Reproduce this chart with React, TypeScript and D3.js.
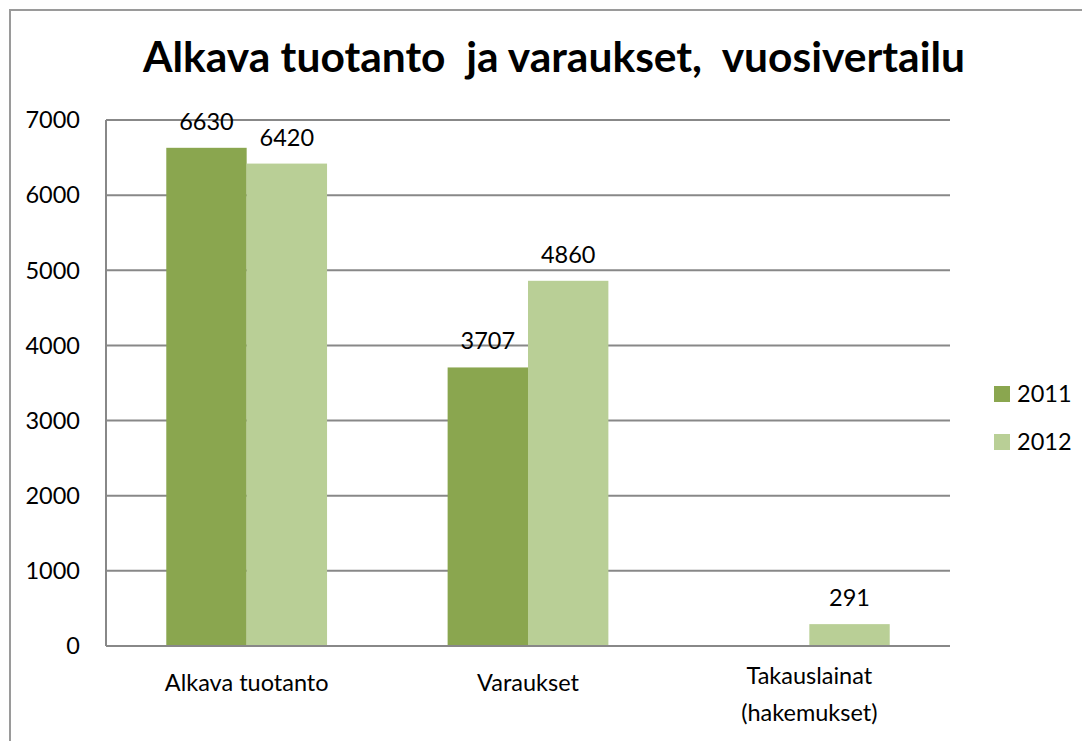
import React from "react";
import * as d3 from "d3";

// kategoriat ja sarjat
const categories = ["Alkava tuotanto", "Varaukset", "Takauslainat\n(hakemukset)"];
const years = ["2011", "2012"];
const values2011 = [6630, 3707, null];
const values2012 = [6420, 4860, 291];
const yTicks = [0, 1000, 2000, 3000, 4000, 5000, 6000, 7000];

const W = 1082;
const H = 741;
const plot = { left: 106, right: 950, top: 120, bottom: 646 };
const colors = ["#8aa64f", "#b9cf96"];
const font = "Lato, 'Open Sans', sans-serif";
const fs = 23.5;

const App = () => {
  const x = d3
    .scaleBand()
    .domain(categories)
    .range([plot.left, plot.right]);

  // Excel tyylinen 150% väli
  const bw = x.bandwidth() / 3.5;
  const xs = d3.scaleBand().domain(years).range([0, bw * 2]);

  const y = d3.scaleLinear().domain([0, 7000]).range([plot.bottom, plot.top]);

  const series = [values2011, values2012];

  return (
    <svg
      width={W}
      height={H}
      style={{ position: "absolute", left: 0, top: 0, background: "#fff" }}
      fontFamily={font}
    >
      <rect x={10} y={10} width={1200} height={900} fill="#fff" stroke="#9a9a9a" strokeWidth={2} />

      <text
        x={554}
        y={72}
        textAnchor="middle"
        fontSize={42.5}
        fontWeight="bold"
        fill="#000"
        style={{ whiteSpace: "pre" }}
      >
        {"Alkava tuotanto  ja varaukset,  vuosivertailu"}
      </text>

      {/* ruudukko */}
      {yTicks.map((t) => (
        <g key={t}>
          {t > 0 && (
            <line x1={plot.left} x2={plot.right} y1={y(t)} y2={y(t)} stroke="#888" strokeWidth={2} />
          )}
          <text x={80} y={y(t)} dy="0.35em" textAnchor="end" fontSize={fs} fill="#000">
            {t}
          </text>
        </g>
      ))}

      {/* pylväät */}
      {series.map((vals, si) =>
        vals.map((v, ci) => {
          if (v == null) return null;
          const bx = (x(categories[ci]) as number) + (x.bandwidth() - bw * 2) / 2 + (xs(years[si]) as number);
          return (
            <g key={si + "-" + ci}>
              <rect x={bx} y={y(v)} width={bw} height={y(0) - y(v)} fill={colors[si]} />
              <text x={bx + bw / 2} y={y(v) - 18} textAnchor="middle" fontSize={fs} fill="#000">
                {v}
              </text>
            </g>
          );
        })
      )}

      {/* akselit */}
      <line x1={plot.left} x2={plot.left} y1={plot.top} y2={plot.bottom} stroke="#888" strokeWidth={2} />
      <line x1={plot.left} x2={plot.right} y1={plot.bottom} y2={plot.bottom} stroke="#888" strokeWidth={2} />

      {/* kategoriat */}
      {categories.map((c) => {
        const lines = c.split("\n");
        const cx = (x(c) as number) + x.bandwidth() / 2;
        const y0 = lines.length > 1 ? 684 : 691;
        return (
          <text key={c} x={cx} textAnchor="middle" fontSize={fs} fill="#000">
            {lines.map((l, i) => (
              <tspan key={i} x={cx} y={y0 + i * 37}>
                {l}
              </tspan>
            ))}
          </text>
        );
      })}

      {/* selite */}
      {years.map((yr, i) => (
        <g key={yr} transform={`translate(994, ${386 + i * 48})`}>
          <rect width={16} height={16} fill={colors[i]} />
          <text x={23} y={8} dy="0.35em" fontSize={fs} fill="#000">
            {yr}
          </text>
        </g>
      ))}
    </svg>
  );
};

export default App;
